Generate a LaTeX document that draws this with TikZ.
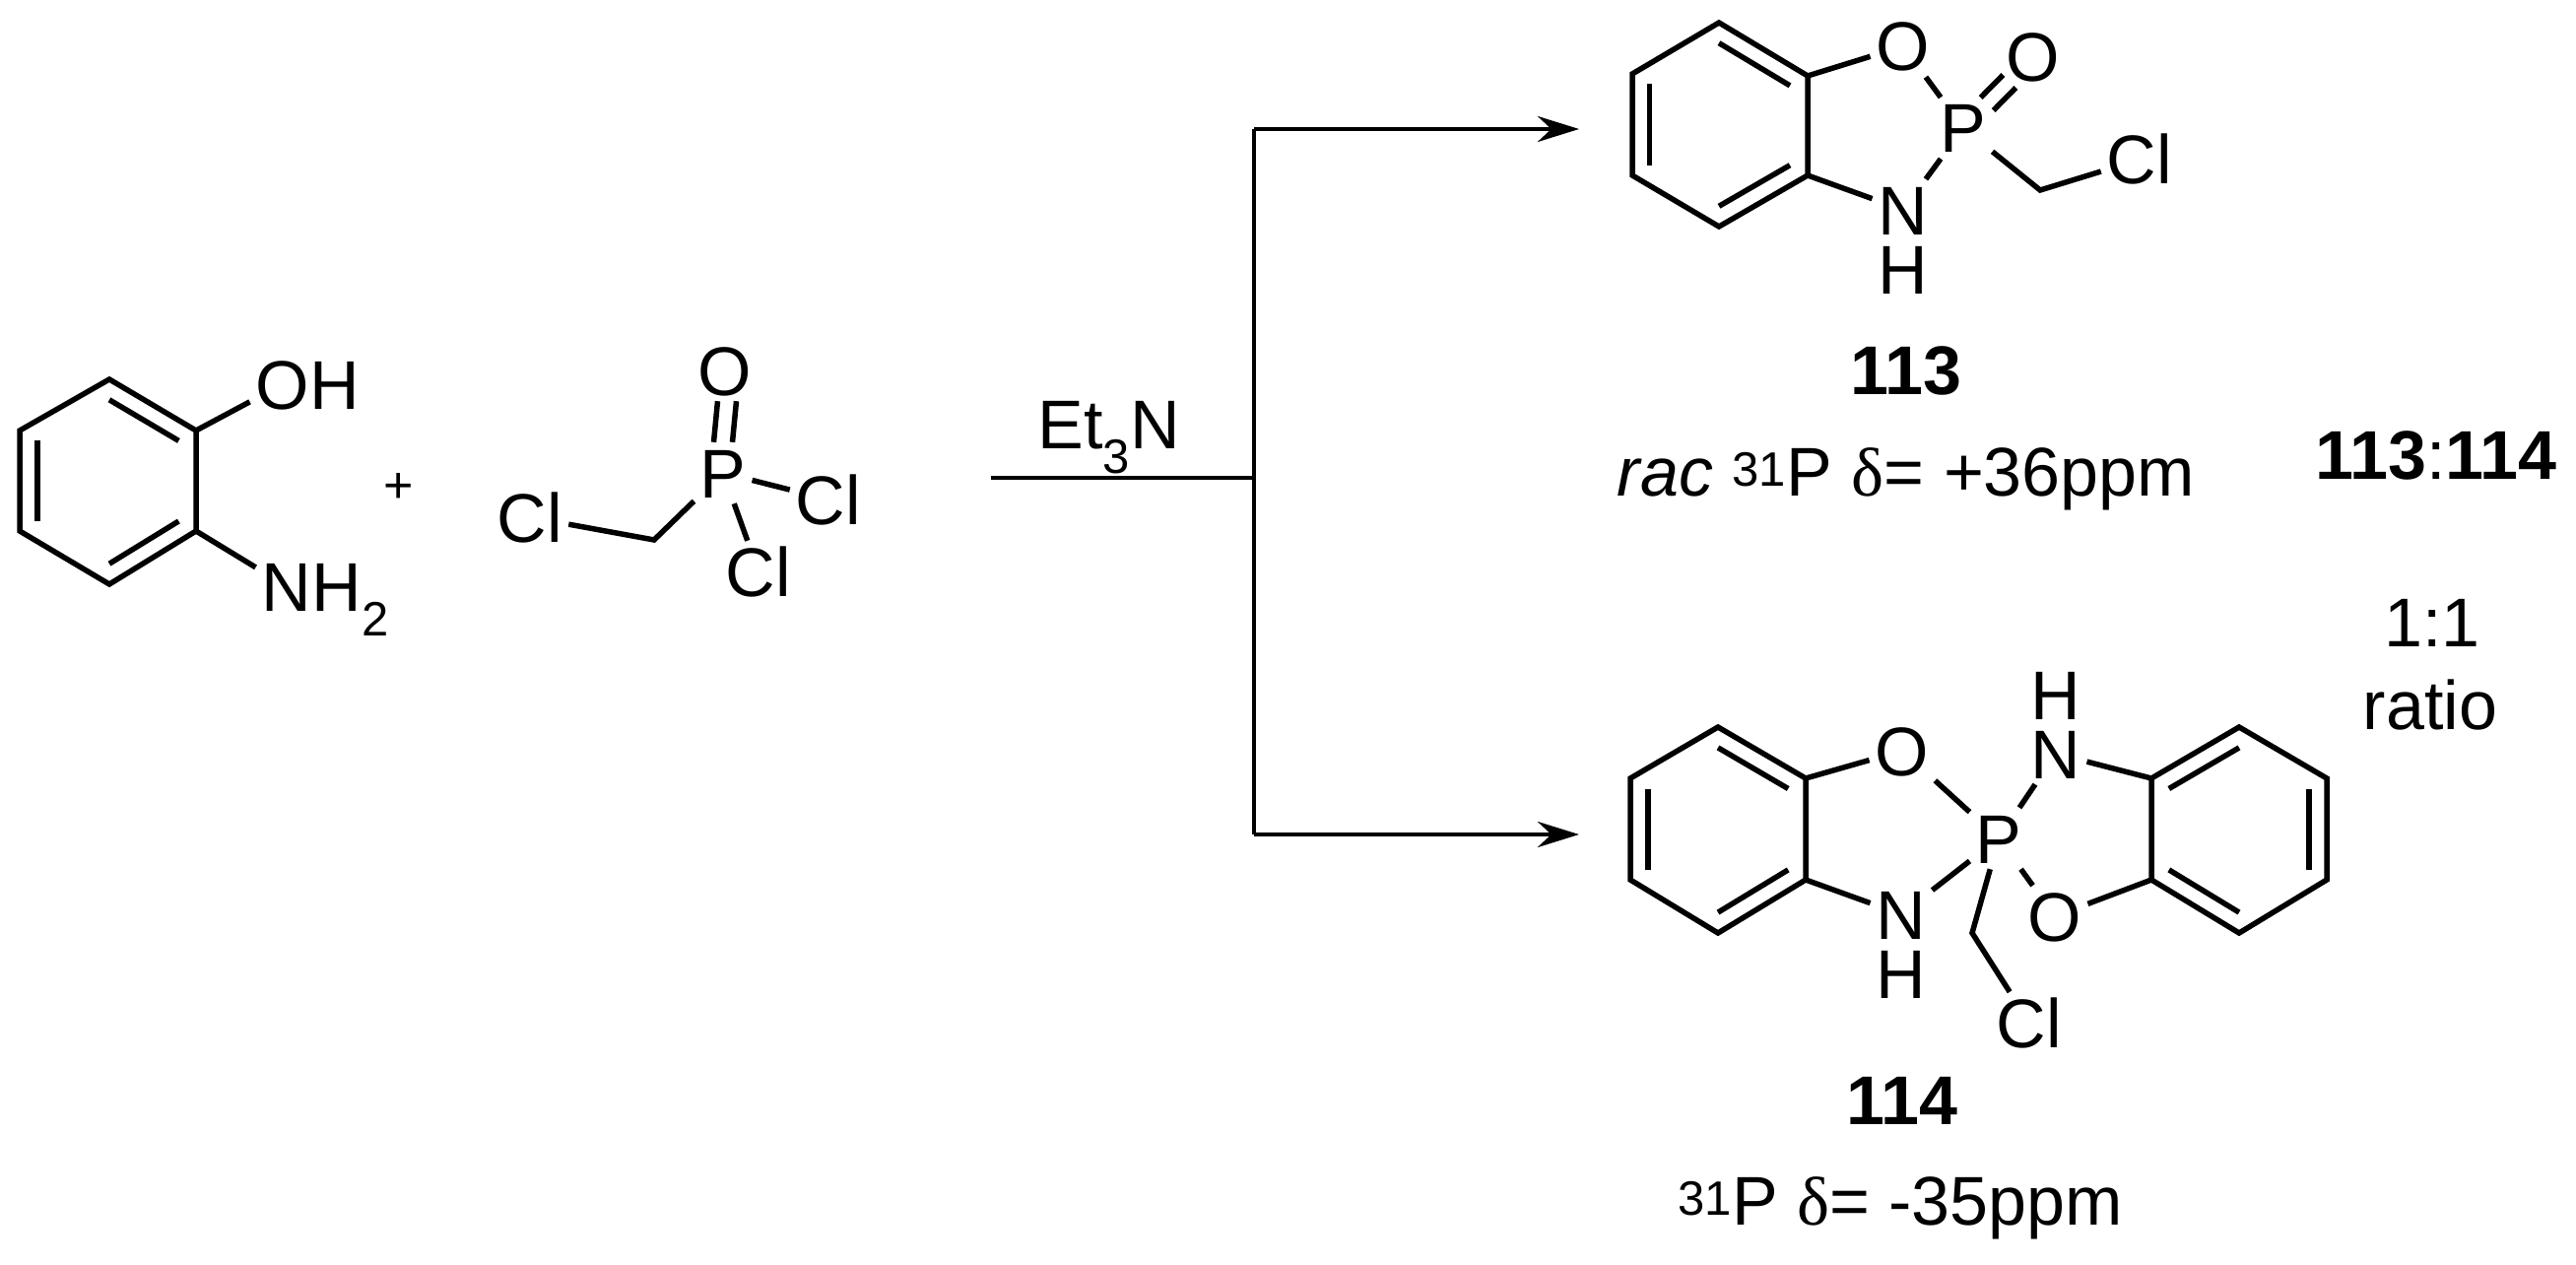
\documentclass[tikz,border=0pt]{standalone}
\usepackage{fontspec}
\setmainfont{Liberation Sans}
\newfontfamily\serifdelta{Liberation Serif}
\usetikzlibrary{calc,arrows.meta}
\tikzset{
  atom/.style={inner sep=6pt,text height=50pt,text depth=0pt,font=\fontsize{70}{80}\selectfont},
  lbl/.style={inner sep=0pt,font=\fontsize{70}{80}\selectfont},
  bond/.style={line width=5.5pt,line cap=butt,line join=miter},
  rxn/.style={line width=4pt},
  rarrow/.style={line width=4pt,-{Stealth[length=42pt,width=26pt]}}
}
\newcommand{\ringsix}[7]{% name prefix, 6 vertex coords
  \coordinate (#1v1) at #2; \coordinate (#1v2) at #3; \coordinate (#1v3) at #4;
  \coordinate (#1v4) at #5; \coordinate (#1v5) at #6; \coordinate (#1v6) at #7;
  \coordinate (#1c) at ($(#1v1)!0.5!(#1v4)$);
  \draw[bond] (#1v1)--(#1v2)--(#1v3)--(#1v4)--(#1v5)--(#1v6)--cycle;}
\newcommand{\inner}[3]{\draw[bond] ($(#1c)!0.8!(#1v#2)$) -- ($(#1c)!0.8!(#1v#3)$);}
\begin{document}
\begin{tikzpicture}[x=1pt,y=-1pt]
\useasboundingbox (0,0) rectangle (2615,1284);
% ---------- 2-aminophenol
\ringsix{a}{(111,385)}{(199,437)}{(199,539)}{(111,593)}{(20,539)}{(20,437)}
\inner{a}{1}{2}\inner{a}{3}{4}\inner{a}{5}{6}
\node[atom] (aO) at (287,390) {O};
\node[atom,anchor=west,inner sep=0pt] (aH) at ([xshift=-6pt]aO.east) {H};
\node[atom] (aN) at (291,595) {N};
\node[atom,anchor=west,inner sep=0pt] (aH2) at ([xshift=-6pt]aN.east) {H\textsubscript{2}};
\draw[bond] (av2) -- (aO);
\draw[bond] (av3) -- (aN);
\node[lbl,font=\fontsize{52}{60}\selectfont] (plus) at (405,495) {+};
% ---------- ClCH2P(O)Cl2
\node[atom] (rP) at (734,480) {P};
\node[atom] (rO) at (736,376) {O};
\node[atom] (rCl1) at (841,507) {Cl};
\node[atom] (rCl2) at (770,580) {Cl};
\node[atom] (rCl3) at (538,525) {Cl};
\coordinate (rC) at (664,548);
\draw[bond] ([xshift=-9.5pt]rP.north) -- ([xshift=-7.5pt]rO.south);
\draw[bond] ([xshift=9.5pt]rP.north) -- ([xshift=11.5pt]rO.south);
\draw[bond] (rP) -- (rCl1);
\draw[bond] (rP) -- (rCl2);
\draw[bond] (rP) -- (rC) -- (rCl3);
% ---------- reaction arrows
\coordinate (s0) at (1006,485);
\coordinate (s1) at (1273,485);
\coordinate (t1) at (1273,131);
\coordinate (b1) at (1273,847);
\coordinate (t2) at (1603,131);
\coordinate (b2) at (1603,847);
\draw[rxn] (s0) -- (s1);
\draw[rxn] (t1) -- (b1);
\draw[rarrow] (t1) -- (t2);
\draw[rarrow] (b1) -- (b2);
\node[lbl,anchor=base] (et3n) at (1126,455) {Et\textsubscript{3}N};
% ---------- 113
\ringsix{b}{(1745,23)}{(1835,77)}{(1835,178)}{(1745,230)}{(1657,178)}{(1657,75)}
\inner{b}{1}{2}\inner{b}{3}{4}\inner{b}{5}{6}
\node[atom] (bO) at (1932,47) {O};
\node[atom] (bP) at (1993,130) {P};
\node[atom] (bN) at (1932,213) {N};
\node[atom] (bH) at (1932,273) {H};
\node[atom] (bO2) at (2064,58) {O};
\node[atom] (bCl) at (2172,162) {Cl};
\coordinate (bC) at (2071,193);
\draw[bond] (bv2) -- (bO);
\draw[bond] (bO) -- (bP);
\draw[bond] (bv3) -- (bN);
\draw[bond] (bN) -- (bP);
\draw[bond] (bP) -- (bC) -- (bCl);
\draw[bond] ($(bP)!0.34!(bO2)+(-6.5,-6.5)$) -- ($(bP)!0.66!(bO2)+(-6.5,-6.5)$);
\draw[bond] ($(bP)!0.34!(bO2)+(6.5,6.5)$) -- ($(bP)!0.66!(bO2)+(6.5,6.5)$);
\node[lbl,font=\fontsize{70}{80}\selectfont\bfseries] (n113) at (1935,376) {113};
\node[lbl,anchor=base] (d113) at (1935,503) {\textit{rac} \textsuperscript{31}P {\serifdelta δ}= +36ppm};
% ---------- 114
\ringsix{c}{(1744,738)}{(1833,790)}{(1833,893)}{(1744,947)}{(1655,893)}{(1655,790)}
\inner{c}{1}{2}\inner{c}{3}{4}\inner{c}{5}{6}
\ringsix{d}{(2273,738)}{(2362,790)}{(2362,893)}{(2273,947)}{(2184,893)}{(2184,790)}
\inner{d}{1}{6}\inner{d}{2}{3}\inner{d}{4}{5}
\node[atom] (cO) at (1931,762) {O};
\node[atom] (cP) at (2029,851) {P};
\node[atom] (cNr) at (2087,765) {N};
\node[atom] (cHr) at (2087,705) {H};
\node[atom] (cNl) at (1930,928) {N};
\node[atom] (cHl) at (1930,988) {H};
\node[atom] (cOr) at (2086,930) {O};
\node[atom] (cCl) at (2060,1038) {Cl};
\coordinate (cC) at (2002,947);
\draw[bond] (cv2) -- (cO);
\draw[bond] (cO) -- (cP);
\draw[bond] (cv3) -- (cNl);
\draw[bond] (cNl) -- (cP);
\draw[bond] (cP) -- (cNr);
\draw[bond] (cNr) -- (dv6);
\draw[bond] (cP) -- (cOr);
\draw[bond] (cOr) -- (dv5);
\draw[bond] (cP) -- (cC) -- (cCl);
\node[lbl,font=\fontsize{70}{80}\selectfont\bfseries] (n114) at (1931,1117) {114};
\node[lbl,anchor=base] (d114) at (1929,1243) {\textsuperscript{31}P {\serifdelta δ}= -35ppm};
% ---------- ratio
\node[lbl] (ratio1) at (2473,462) {\textbf{113}:\textbf{114}};
\node[lbl] (ratio2) at (2469,632) {1:1};
\node[lbl,anchor=base] (ratio3) at (2467,740) {ratio};
\end{tikzpicture}
\end{document}
